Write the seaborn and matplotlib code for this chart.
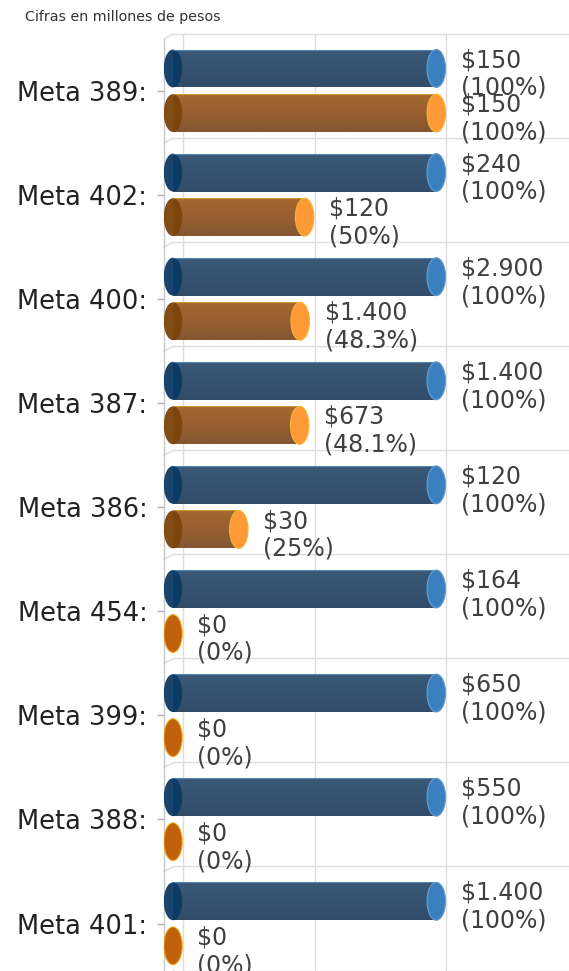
import numpy as np
import pandas as pd
import matplotlib

matplotlib.use("Agg")
import matplotlib.pyplot as plt
from matplotlib.patches import Ellipse
from matplotlib.colors import to_rgb
import seaborn as sns

# ---- data -------------------------------------------------------------
metas = ["Meta 389:", "Meta 402:", "Meta 400:", "Meta 387:", "Meta 386:",
         "Meta 454:", "Meta 399:", "Meta 388:", "Meta 401:"]
pct_meta = [100, 100, 100, 100, 100, 100, 100, 100, 100]
pct_exec = [100, 50, 48.3, 48.1, 25, 0, 0, 0, 0]
amount_meta = ["$150", "$240", "$2.900", "$1.400", "$120", "$164", "$650", "$550", "$1.400"]
amount_exec = ["$150", "$120", "$1.400", "$673", "$30", "$0", "$0", "$0", "$0"]
series = ["Meta", "Ejecutado"]

df = pd.DataFrame({
    "meta": metas * 2,
    "serie": [series[0]] * len(metas) + [series[1]] * len(metas),
    "pct": pct_meta + pct_exec,
    "monto": amount_meta + amount_exec,
})

# colours: body, gradient top/bottom, left cap, right cap, cap edge
styles = {
    "Meta": dict(body="#34536f", top="#3a5a78", bottom="#304c68",
                 left="#0b3a65", right="#3a80c1", edge="#6a9ed0"),
    "Ejecutado": dict(body="#8d5c30", top="#a5682e", bottom="#855632",
                      left="#7b4407", right="#fd9a35", edge="#f3b63a"),
}
zero_cap = dict(face="#c0620b", edge="#f2b12c")

W, H, DPI = 569, 971, 100
PX = 2.633          # pixels per percent unit
ROW = 104.1         # pixels per category
X0 = 173            # pixel of value 0
DEPTH_X = 10 / PX   # 3d depth offset (data units)
DEPTH_Y = 5 / ROW

sns.set_theme(style="white")
plt.rcParams["font.family"] = ["DejaVu Sans"]

fig = plt.figure(figsize=(W / DPI, H / DPI), dpi=DPI)
ax_left, ax_top, ax_bottom = 164, 38.7, 971
ax = fig.add_axes([ax_left / W, (H - ax_bottom) / H, (W - ax_left) / W,
                   (ax_bottom - ax_top) / H])

sns.barplot(data=df, y="meta", x="pct", hue="serie", hue_order=series,
            palette=[styles[s]["body"] for s in series], orient="h",
            width=0.856, gap=0.15, linewidth=0, legend=False, ax=ax, zorder=3)

xmin = -(X0 - ax_left) / PX
xmax = (W - X0) / PX
ymin_d = -0.5
ymax_d = -0.5 + (ax_bottom - ax_top) / ROW
ax.set_xlim(xmin, xmax)
ax.set_ylim(ymax_d, ymin_d)

# 3d-ish back wall grid
grid_c = "#dcdcdc"
for v in [0, 50, 100, 150]:
    ax.plot([v + DEPTH_X, v + DEPTH_X], [ymin_d - DEPTH_Y, ymax_d + 0.1],
            color=grid_c, lw=1, zorder=1, clip_on=False)
for k in range(len(metas) + 1):
    b = k - 0.5
    ax.plot([DEPTH_X - (X0 - ax_left) / PX, xmax], [b - DEPTH_Y, b - DEPTH_Y],
            color=grid_c, lw=1, zorder=1, clip_on=False)
    ax.plot([xmin, DEPTH_X - (X0 - ax_left) / PX], [b, b - DEPTH_Y],
            color=grid_c, lw=1, zorder=1, clip_on=False)

# caps (ellipses), shading and labels from the seaborn bar patches
cap_w = 18.5 / PX
for patch, (_, row) in zip(list(ax.patches), df.iterrows()):
    st = styles[row["serie"]]
    y0 = patch.get_y()
    h = patch.get_height()
    yc = y0 + h / 2
    val = patch.get_width()
    if val > 0:
        # vertical shading of the cylinder body
        grad = np.linspace(0, 1, 32)[:, None, None]
        img = (1 - grad) * np.array(to_rgb(st["top"])) + grad * np.array(to_rgb(st["bottom"]))
        im = ax.imshow(img, extent=(0, val, y0 + h, y0), aspect="auto",
                       interpolation="bilinear", zorder=3.5)
        im.set_clip_path(patch)
        ax.add_patch(Ellipse((0, yc), cap_w, h, facecolor=st["left"],
                             edgecolor="none", alpha=0.95, zorder=4))
        ax.add_patch(Ellipse((val, yc), cap_w, h, facecolor=st["right"],
                             edgecolor=st["edge"], lw=0.8, zorder=5))
        ax.plot([0, val], [y0, y0], color=st["edge"], lw=0.8, alpha=0.6, zorder=4)
    else:
        ax.add_patch(Ellipse((0, yc), cap_w, h, facecolor=zero_cap["face"],
                             edgecolor=zero_cap["edge"], lw=0.8, zorder=5))
    ax.text(val + 24.5 / PX, yc + 5.5 / ROW,
            f"{row['monto']}\n({row['pct']:g}%)", ha="left", va="center",
            fontsize=17, color="#404040", linespacing=1.2, zorder=6)

ax.set_xlim(xmin, xmax)
ax.set_ylim(ymax_d, ymin_d)

for s in ["top", "right", "bottom"]:
    ax.spines[s].set_visible(False)
ax.spines["left"].set_color("#c8c8c8")
ax.spines["left"].set_linewidth(1)
ax.set_xticks([])
ax.set_xlabel("")
ax.set_ylabel("")
ax.tick_params(axis="y", left=True, length=5, width=1, color="#aaaaaa",
               pad=7, labelsize=18.5, labelcolor="#222222")

fig.text(25 / W, 1 - 17 / H, "Cifras en millones de pesos", fontsize=10.3,
         color="#333333", ha="left", va="center")

fig.savefig("out.png", dpi=DPI)
